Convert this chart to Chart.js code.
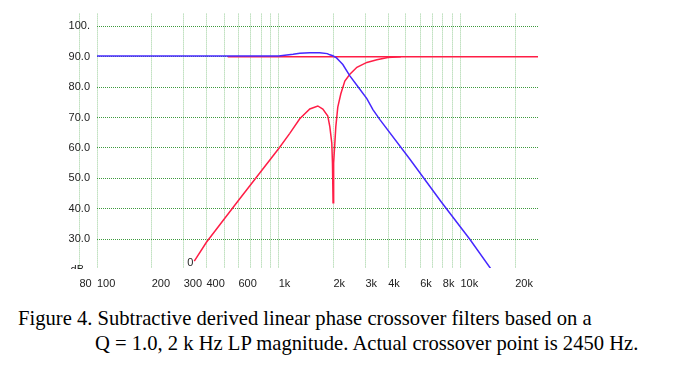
<!DOCTYPE html>
<html>
<head>
<meta charset="utf-8">
<script src="https://cdn.jsdelivr.net/npm/chart.js@4"></script>
<style>
    body { margin: 0; background: #fff; width: 673px; height: 365px; overflow: hidden; position: relative; }
    #wrap { position: absolute; left: 0; top: 0; width: 673px; height: 290px; }
    .cap { position: absolute; font-family: "Liberation Serif", "Times New Roman", serif; font-size: 20.6px; color: #000; white-space: nowrap; line-height: 25px; }
</style>
</head>
<body>
<div id="wrap"><canvas id="chart"></canvas></div>
<div class="cap" style="left:18px; top:306px;">Figure 4. Subtractive derived linear phase crossover filters based on a</div>
<div class="cap" style="left:95px; top:331px;">Q = 1.0, 2 k Hz LP magnitude. Actual crossover point is 2450 Hz.</div>
<script>
// x ticks (Hz) and their labels, blank = gridline only
const freqTicks = [80, 100, 200, 300, 400, 500, 600, 700, 800, 900, 1000, 2000, 3000, 4000, 5000, 6000, 7000, 8000, 9000, 10000, 20000];
const freqLabels = ['80', '100', '200', '300', '400', '', '600', '', '', '', '1k', '2k', '3k', '4k', '', '6k', '', '8k', '', '10k', '20k'];

// y ticks (dB)
const dbTicks = [30, 40, 50, 60, 70, 80, 90, 100];
const dbLabels = ['30.0', '40.0', '50.0', '60.0', '70.0', '80.0', '90.0', '100.'];

// LP magnitude (blue)
const lpFreq = [100, 1000, 1080, 1200, 1305, 1480, 1680, 1850, 1910, 1984, 2080, 2166, 2252, 2462, 2723, 3053, 3297, 3602, 5270, 7806, 11280, 14720];
const lpDb   = [90.2, 90.2, 90.5, 90.8, 91.1, 91.3, 91.3, 91.0, 90.6, 90.3, 89.6, 88.5, 87.4, 83.7, 80.2, 76.2, 72.6, 69.3, 56.3, 42.4, 29.9, 20.2];

// derived HP magnitude (red)
const hpFreq = [343, 400, 594, 1005, 1150, 1305, 1482, 1640, 1748, 1862, 1910, 1959, 1975, 1990, 2005, 2035, 2061, 2113, 2196, 2310, 2462, 2691, 3053, 3467, 3985, 4700];
const hpDb   = [22.8, 29.0, 42.4, 60.0, 64.8, 69.6, 72.8, 73.8, 72.8, 70.5, 67.0, 61.5, 55.0, 42.0, 55.0, 61.5, 67.0, 73.4, 77.8, 82.0, 84.2, 86.5, 88.1, 89.0, 89.7, 90.0];

// summed response (red, flat)
const sumFreq = [524, 26700];
const sumDb   = [90, 90];

const BLUE = '#4628ff';
const RED = '#ff1e46';
const TICK_FONT = { family: '"Liberation Sans", Arial, sans-serif', size: 11 };

function toPoints(xs, ys) {
    return xs.map((f, i) => ({ x: f, y: ys[i] }));
}

// small text marks drawn on the plot: start "0" of HP curve and the cut-off "dB" unit
const notesPlugin = {
    id: 'notes',
    afterDatasetsDraw(chart) {
        const { ctx, chartArea, scales } = chart;
        const x = scales.x, y = scales.y;
        ctx.save();
        ctx.font = '11px "Liberation Sans", Arial, sans-serif';
        ctx.fillStyle = '#222';
        ctx.textAlign = 'right';
        ctx.textBaseline = 'middle';
        ctx.fillText('0', x.getPixelForValue(hpFreq[0]) - 1, y.getPixelForValue(hpDb[0]) + 2);
        ctx.beginPath();
        ctx.rect(0, 0, chart.width, chartArea.bottom + 1);
        ctx.clip();
        ctx.fillText('dB', 84, y.getPixelForValue(20));
        ctx.restore();
    }
};

const chart = new Chart(document.getElementById('chart').getContext('2d'), {
    type: 'line',
    data: {
        datasets: [
            { data: toPoints(lpFreq, lpDb), borderColor: BLUE, borderWidth: 1.5, pointRadius: 0, tension: 0, order: 1 },
            { data: toPoints(hpFreq, hpDb), borderColor: RED, borderWidth: 1.5, pointRadius: 0, tension: 0, order: 2 },
            { data: toPoints(sumFreq, sumDb), borderColor: RED, borderWidth: 1.5, pointRadius: 0, tension: 0, order: 3 }
        ]
    },
    options: {
        responsive: true,
        maintainAspectRatio: false,
        animation: false,
        devicePixelRatio: 1,
        layout: { padding: { left: 0, right: 135, top: 8, bottom: 0 } },
        plugins: {
            legend: { display: false },
            tooltip: { enabled: false }
        },
        scales: {
            x: {
                type: 'logarithmic',
                position: 'bottom',
                min: 100,
                max: 26700,
                afterBuildTicks: scale => { scale.ticks = freqTicks.map(v => ({ value: v })); },
                afterFit: scale => { scale.height = 22; },
                grid: { color: 'rgba(70,165,70,0.55)', lineWidth: 1, drawTicks: false },
                border: { display: false, dash: [1, 1] },
                ticks: {
                    align: 'start',
                    autoSkip: false,
                    maxRotation: 0,
                    minRotation: 0,
                    padding: 9,
                    color: '#222',
                    font: TICK_FONT,
                    callback: (v, i) => freqLabels[i]
                }
            },
            y: {
                type: 'linear',
                position: 'left',
                min: 20.55,
                max: 104.15,
                afterBuildTicks: scale => { scale.ticks = dbTicks.map(v => ({ value: v })); },
                afterFit: scale => { scale.width = 97; },
                grid: { color: '#3f9a3f', lineWidth: 1, drawTicks: false },
                border: { display: false, dash: [1, 1] },
                ticks: {
                    padding: 7,
                    color: '#222',
                    font: TICK_FONT,
                    callback: (v, i) => dbLabels[i]
                }
            }
        }
    },
    plugins: [notesPlugin]
});
</script>
</body>
</html>
